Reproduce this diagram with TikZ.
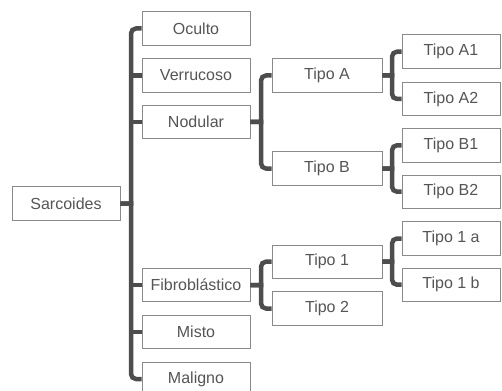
\documentclass[tikz,border=0pt]{standalone}
\usepackage{fontspec}
\setmainfont{Liberation Sans}
\definecolor{boxline}{HTML}{8A8A8A}
\definecolor{conn}{HTML}{4D4D4D}
\definecolor{txt}{HTML}{555555}
\begin{document}
\begin{tikzpicture}[x=1pt,y=-1pt,
  box/.style={draw=boxline,line width=0.9pt,fill=white,minimum height=33.5pt,inner sep=0pt,
    text=txt,font=\fontsize{16}{19}\selectfont},
  colA/.style={box,minimum width=108pt},
  colB/.style={box,minimum width=110pt},
  colC/.style={box,minimum width=98pt},
  link/.style={draw=conn,line width=4.5pt,line join=miter}]
\useasboundingbox (0,0) rectangle (502,390);
\clip (0,0) rectangle (502,390);
\node[colA] (sar) at (66,203.5) {Sarcoides};
\node[colA] (ocu) at (196,28.5) {Oculto};
\node[colA] (ver) at (196,75.5) {Verrucoso};
\node[colA] (nod) at (196,122) {Nodular};
\node[colA] (fib) at (196,285) {Fibroblástico};
\node[colA] (mis) at (196,332) {Misto};
\node[colA] (mal) at (196,379) {Maligno};
\node[colB] (ta) at (327,75.5) {Tipo A};
\node[colB] (tb) at (327,168.5) {Tipo B};
\node[colB] (t1) at (327,261.7) {Tipo 1};
\node[colB] (t2) at (327,308.5) {Tipo 2};
\node[colC] (ta1) at (451,51.7) {Tipo A1};
\node[colC] (ta2) at (451,99) {Tipo A2};
\node[colC] (tb1) at (451,145.3) {Tipo B1};
\node[colC] (tb2) at (451,191.7) {Tipo B2};
\node[colC] (t1a) at (451,238.5) {Tipo 1 a};
\node[colC] (t1b) at (451,284.7) {Tipo 1 b};
% junction points
\coordinate (j0) at (131,203.5);
\coordinate (j1) at (261,122);
\coordinate (j2) at (261,285);
\coordinate (j3) at (392,75.5);
\coordinate (j4) at (392,168.5);
\coordinate (j5) at (392,261.7);
% connectors: end children with rounded outer corner, middle children straight
\foreach \p/\j/\c in {sar/j0/ocu,sar/j0/mal,nod/j1/ta,nod/j1/tb,fib/j2/t1,fib/j2/t2,
                      ta/j3/ta1,ta/j3/ta2,tb/j4/tb1,tb/j4/tb2,t1/j5/t1a,t1/j5/t1b}
  \draw[link] (\p.east) -- (\j) [rounded corners=5pt] -- (\j |- \c.west) -- (\c.west);
\foreach \c in {ver,nod,fib,mis}
  \draw[link] (j0 |- \c.west) -- (\c.west);
\end{tikzpicture}
\end{document}
